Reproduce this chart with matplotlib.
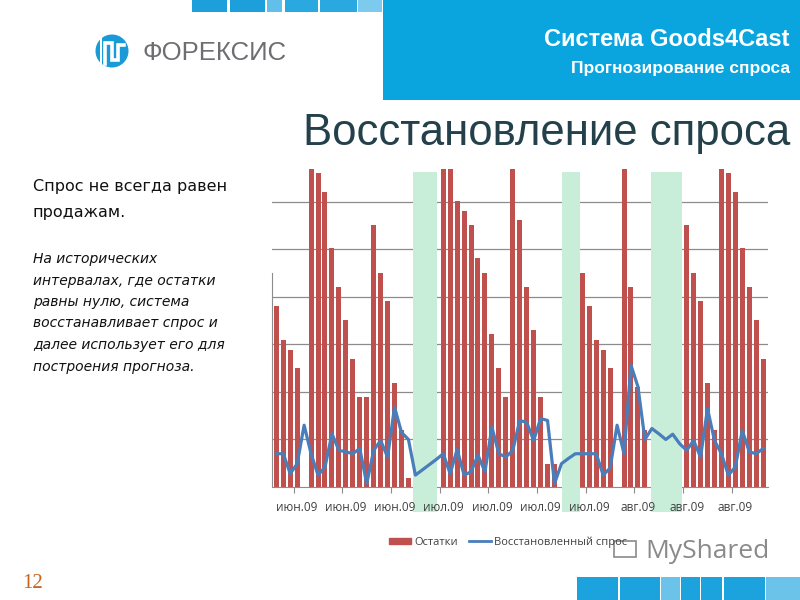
import matplotlib
matplotlib.use('Agg')
import matplotlib.pyplot as plt
from matplotlib.patches import Rectangle, Circle
from matplotlib.lines import Line2D

# Остатки по дням (71 день); 7.2 - столбцы, обрезанные верхом графика
ostatki = [3.80, 3.10, 2.89, 2.51, 0, 7.2, 6.61, 6.21, 5.02, 4.21,
           3.51, 2.70, 1.89, 1.89, 5.51, 4.51, 3.91, 2.19, 1.19, 0.19,
           0, 0, 0, 0, 7.2, 7.2, 6.01, 5.80, 5.51, 4.81,
           4.51, 3.21, 2.51, 1.89, 7.2, 5.61, 4.21, 3.30, 1.89, 0.49,
           0.49, 0, 0, 0, 4.51, 3.81, 3.10, 2.89, 2.51, 0,
           7.2, 4.21, 2.11, 1.19, 0, 0, 0, 0, 0, 5.51,
           4.51, 3.91, 2.19, 1.19, 7.2, 6.61, 6.21, 5.02, 4.21, 3.51,
           2.70]

# Восстановленный спрос
spros = [0.70, 0.70, 0.28, 0.49, 1.30, 0.70, 0.25, 0.42, 1.12, 0.77,
         0.74, 0.70, 0.81, 0.07, 0.77, 0.98, 0.63, 1.68, 1.15, 1.00,
         0.25, 0.36, 0.47, 0.58, 0.70, 0.28, 0.79, 0.25, 0.32, 0.67,
         0.32, 1.26, 0.70, 0.63, 0.77, 1.40, 1.36, 0.98, 1.44, 1.40,
         0.07, 0.49, 0.60, 0.70, 0.70, 0.70, 0.70, 0.25, 0.40, 1.30,
         0.70, 2.56, 2.11, 1.00, 1.23, 1.12, 1.00, 1.11, 0.91, 0.77,
         0.98, 0.63, 1.65, 0.98, 0.70, 0.25, 0.42, 1.19, 0.74, 0.70,
         0.81]

# интервалы с нулевыми остатками (зелёная подсветка), в номерах дней
zero_intervals = [(19.7, 23.05), (41.05, 43.65), (53.9, 58.4)]

months = ['июн.09', 'июн.09', 'июн.09', 'июл.09', 'июл.09',
          'июл.09', 'июл.09', 'авг.09', 'авг.09', 'авг.09']

left_head = ['Спрос не всегда равен', 'продажам.']
left_body = ['На исторических', 'интервалах, где остатки', 'равны нулю, система',
             'восстанавливает спрос и', 'далее использует его для',
             'построения прогноза.']

RED = '#c0504d'
BLUE = '#4a7ebb'
GREEN = '#c8eed9'
GRID = '#8c8c8c'
CYAN = '#0aa5df'
ARIAL = ['Liberation Sans', 'DejaVu Sans']

fig = plt.figure(figsize=(8, 6), dpi=100)

# фон слайда в пиксельных координатах
bg = fig.add_axes([0, 0, 1, 1])
bg.set_xlim(0, 800)
bg.set_ylim(600, 0)
bg.axis('off')

bg.add_patch(Rectangle((383, 0), 417, 100, color=CYAN, lw=0))
for x0, x1, c in [(192, 227, '#1d9fdb'), (230, 265, '#1d9fdb'), (267, 282, '#62bfe9'),
                  (285, 318, '#2aa8e0'), (320, 357, '#2aa8e0'), (358, 382, '#7ccbee')]:
    bg.add_patch(Rectangle((x0, 0), x1 - x0, 12, color=c, lw=0))
for x0, x1, c in [(577, 618, '#1ca3de'), (620, 660, '#1ca3de'), (661, 680, '#6cc3ea'),
                  (681, 700, '#1ca3de'), (701, 722, '#1ca3de'), (724, 765, '#1ca3de'),
                  (766, 800, '#6cc3ea')]:
    bg.add_patch(Rectangle((x0, 577), x1 - x0, 23, color=c, lw=0))

# логотип
bg.add_patch(Circle((112, 51), 16.5, color='#1a9bd7', lw=0))
bg.add_patch(Rectangle((99.5, 34), 2.5, 36, color='white', lw=0))
bg.plot([105, 105, 111.5, 111.5, 118, 118, 123.5], [64, 43, 43, 60, 60, 45, 45],
        color='white', lw=2.6, solid_joinstyle='miter')
bg.text(143, 53, 'ФОРЕКСИС', fontsize=18.5, color='#6d6e71', va='center', ha='left',
        family=ARIAL)

bg.text(790, 40, 'Система Goods4Cast', fontsize=17, color='white', weight='bold',
        va='center', ha='right', family=ARIAL)
bg.text(790, 68, 'Прогнозирование спроса', fontsize=12.5, color='white', weight='bold',
        va='center', ha='right', family=ARIAL)

bg.text(790, 133, 'Восстановление спроса', fontsize=31.5, color='#23404b',
        va='center', ha='right', family=ARIAL)

for i, s in enumerate(left_head):
    bg.text(33, 187 + 26 * i, s, fontsize=11.5, color='#111111', va='center', ha='left')
for i, s in enumerate(left_body):
    bg.text(33, 259 + 21.5 * i, s, fontsize=10, color='#111111', style='italic',
            va='center', ha='left')

bg.text(22, 583, '12', fontsize=15, color='#c8641e', va='center', ha='left',
        family=['Liberation Serif', 'DejaVu Serif'])

# водяной знак
bg.add_patch(Rectangle((614, 541), 22, 16, fill=False, ec='#8a8a8a', lw=1.2))
bg.text(645, 552, 'MyShared', fontsize=19, color='#8a8a8a', va='center', ha='left',
        family=['Open Sans', 'DejaVu Sans'], zorder=5)

# график
ax = fig.add_axes([272 / 800, 113 / 600, 496 / 800, 318 / 600])
ax.patch.set_alpha(0)
ax.set_axisbelow(False)
days = list(range(len(ostatki)))

ax.set_xlim(-0.62, 70.7)
ax.set_ylim(0, 6.69)
ax.set_yticks([1, 2, 3, 4, 5, 6])
for y in ax.get_yticks():
    ax.axhline(y, color=GRID, lw=0.9, zorder=1)
ax.tick_params(axis='y', length=0, labelleft=False)

for a, b in zero_intervals:
    ax.axvspan(a, b, ymin=-0.079, ymax=0.99, color=GREEN, lw=0, zorder=2, clip_on=False)

ax.bar(days, ostatki, width=0.72, color=RED, zorder=3, label='Остатки')
ax.plot(days, spros, color=BLUE, lw=2.3, zorder=4, solid_joinstyle='round',
        label='Восстановленный спрос')

ax.set_xticks([3 + 7 * k for k in range(len(months))], months)
ax.set_xticks([2.5 + 7 * k for k in range(len(months))], minor=True)
ax.tick_params(axis='x', which='major', length=0, pad=10, labelsize=8.5, labelcolor='#404040')
ax.tick_params(axis='x', which='minor', length=4, color=GRID, width=0.8)
for lab in ax.get_xticklabels():
    lab.set_family(['Open Sans', 'DejaVu Sans'])

for s in ['top', 'right']:
    ax.spines[s].set_visible(False)
ax.spines['bottom'].set_color(GRID)
ax.spines['bottom'].set_zorder(1)
ax.spines['left'].set_color(GRID)
ax.spines['left'].set_bounds(0, 4.5)

handles = [Rectangle((0, 0), 1, 1, color=RED), Line2D([], [], color=BLUE, lw=2)]
leg = fig.legend(handles, ['Остатки', 'Восстановленный спрос'], loc='center',
                 bbox_to_anchor=(508 / 800, 1 - 542 / 600), ncol=2, frameon=False,
                 handlelength=2.0, handleheight=0.4, columnspacing=1.0,
                 handletextpad=0.3, prop={'family': ['Open Sans', 'DejaVu Sans'], 'size': 8})
for t in leg.get_texts():
    t.set_color('#404040')

fig.savefig('out.png', dpi=100)
